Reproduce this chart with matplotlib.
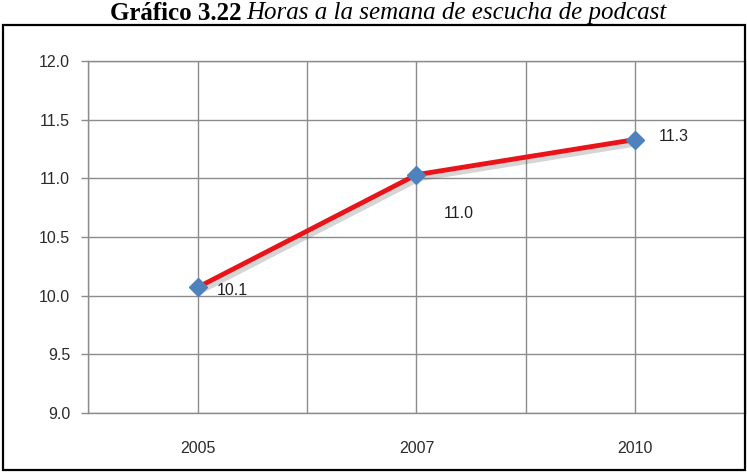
import matplotlib.pyplot as plt
import matplotlib.patches as patches
import matplotlib.patheffects as pe

# data
years = ['2005', '2007', '2010']
hours = [10.07, 11.03, 11.33]
labels = ['10.1', '11.0', '11.3']
yticks = [9.0, 9.5, 10.0, 10.5, 11.0, 11.5, 12.0]

fig = plt.figure(figsize=(7.47, 4.72), dpi=100)
ax = fig.add_axes([0.118, 0.125, 0.879, 0.746])

x = list(range(len(years)))
shadow = [pe.SimpleLineShadow(offset=(2, -3), alpha=0.22, shadow_color='#444444'), pe.Normal()]
ax.plot(x, hours, color='#e8141a', lw=3.5, solid_capstyle='round', zorder=3,
        path_effects=shadow)
ax.plot(x, hours, ls='none', marker='D', ms=9, color='#4f81bd', mec='#4f81bd',
        zorder=4)

# data labels, placed like the original
offsets = [(14, -2), (20, -28), (17, 2)]
for xi, yi, lab, off in zip(x, hours, labels, offsets):
    ax.annotate(lab, (xi, yi), xytext=off, textcoords='offset points',
                ha='left', va='center', fontsize=11.5, color='#222222',
                family='Liberation Sans')

ax.set_xlim(-0.5, 2.5)
ax.set_ylim(9.0, 12.0)
ax.set_yticks(yticks)
ax.set_yticklabels(['%.1f' % v for v in yticks])
ax.set_xticks(x)
ax.set_xticklabels(years)
ax.set_xticks([-0.5, 0.5, 1.5, 2.5], minor=True)
ax.grid(True, which='both', color='#8c8c8c', lw=1)
ax.set_axisbelow(True)
ax.tick_params(axis='y', length=5, width=1, color='#8c8c8c', pad=8,
               labelsize=11.5, labelcolor='#2b2b2b')
ax.tick_params(axis='x', which='both', length=0, pad=20,
               labelsize=11.5, labelcolor='#2b2b2b')
for lab in ax.get_xticklabels() + ax.get_yticklabels():
    lab.set_family('Liberation Sans')
for s in ax.spines.values():
    s.set_color('#8c8c8c')
    s.set_linewidth(1)

# outer frame around the chart
fig.add_artist(patches.Rectangle((0.004, 0.004), 0.993, 0.943, transform=fig.transFigure,
                                 fill=False, ec='black', lw=1.6))

# title: bold part + italic part, centred together
t1 = fig.text(0, 0.972, 'Gráfico 3.22', ha='left', va='center', fontsize=18,
              fontweight='bold', family='Liberation Serif')
t2 = fig.text(0, 0.972, 'Horas a la semana de escucha de podcast', ha='left', va='center',
              fontsize=18, style='italic', family='Liberation Serif')
r = fig.canvas.get_renderer()
w1 = t1.get_window_extent(r).width / fig.bbox.width
w2 = t2.get_window_extent(r).width / fig.bbox.width
gap = 5 / fig.bbox.width
start = 0.52 - (w1 + gap + w2) / 2
t1.set_x(start)
t2.set_x(start + w1 + gap)

fig.savefig('out.png', dpi=100)
